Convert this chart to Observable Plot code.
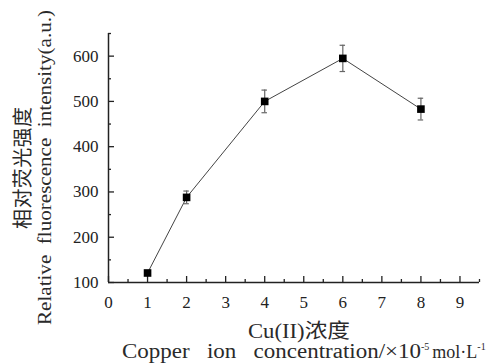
<!DOCTYPE html>
<html><head><meta charset="utf-8">
<script src="https://cdn.jsdelivr.net/npm/d3@7"></script>
<script src="https://cdn.jsdelivr.net/npm/@observablehq/plot@0.6"></script>
<style>
body{margin:0;background:#fff;}
#c{position:relative;width:488px;height:363px;}
svg text{font-family:"Liberation Serif","Times New Roman","DejaVu Serif","Noto Sans CJK SC",serif;}
</style></head><body><div id="c"></div>
<script>
const conc = [1, 2, 4, 6, 8];
const intensity = [121, 288, 500, 595, 483];
const errs = [3, 14, 25, 29, 24];
const xTicks = [0,1,2,3,4,5,6,7,8,9];
const xMinor = [0.5,1.5,2.5,3.5,4.5,5.5,6.5,7.5,8.5,9.5];
const yTicks = [100,200,300,400,500,600];
const yMinor = [150,250,350,450,550,650];
const yLabelZh = "相对荧光强度";
const yLabelEn = "Relative  fluorescence  intensity(a.u.)";
const xLabelZh = "Cu(II)浓度";
const xLabelEn = "Copper   ion   concentration/×10";
const xUnitExp = "-5";
const xUnit = "mol·L";
const xUnitExp2 = "-1";

const data = conc.map((x,i)=>({x, y:intensity[i], e:errs[i]}));
const font = '"Liberation Serif","Times New Roman","DejaVu Serif","Noto Sans CJK SC",serif';

const plot = Plot.plot({
  width: 488, height: 363,
  marginLeft: 108, marginRight: 9, marginTop: 33, marginBottom: 81,
  style: {fontFamily: font, fontSize: "17px", color: "#222", background: "#fff"},
  x: {domain: [0, 9.5], label: null},
  y: {domain: [100, 650], label: null},
  marks: [
    Plot.axisX({ticks: xTicks, tickSize: 0, tickPadding: 13, fontSize: 17}),
    Plot.axisX({ticks: xTicks, tickSize: -6, text: null, stroke: "#222", strokeWidth: 1.3}),
    Plot.axisX({ticks: xMinor, tickSize: -3, text: null, stroke: "#222", strokeWidth: 1.3}),
    Plot.axisY({ticks: yTicks, tickSize: 0, tickPadding: 10, fontSize: 17}),
    Plot.axisY({ticks: yTicks, tickSize: -6, text: null, stroke: "#222", strokeWidth: 1.3}),
    Plot.axisY({ticks: yMinor, tickSize: -3, text: null, stroke: "#222", strokeWidth: 1.3}),
    Plot.ruleX([0], {stroke: "#222", strokeWidth: 1.5}),
    Plot.ruleY([100], {stroke: "#222", strokeWidth: 1.5}),
    Plot.line(data, {x: "x", y: "y", stroke: "#444", strokeWidth: 1}),
    Plot.ruleX(data, {x: "x", y1: d => d.y - d.e, y2: d => d.y + d.e, stroke: "#666", strokeWidth: 1.2}),
    Plot.ruleY(data, {y: d => d.y - d.e, x1: d => d.x - 0.07, x2: d => d.x + 0.07, stroke: "#666", strokeWidth: 1.2}),
    Plot.ruleY(data, {y: d => d.y + d.e, x1: d => d.x - 0.07, x2: d => d.x + 0.07, stroke: "#666", strokeWidth: 1.2}),
    Plot.dot(data, {x: "x", y: "y", symbol: "square", r: 4.3, fill: "#000", stroke: "none"})
  ]
});
const svg = d3.select(plot);
const col = "#2a2a2a";
svg.append("text").attr("transform", "translate(30,168) rotate(-90)")
  .attr("text-anchor", "middle").attr("font-size", 20).attr("fill", col)
  .attr("textLength", 122).attr("lengthAdjust", "spacing")
  .text(yLabelZh);
svg.append("text").attr("transform", "translate(51,325) rotate(-90)")
  .attr("text-anchor", "start").attr("font-size", 19).attr("fill", col)
  .style("white-space","pre")
  .attr("textLength", 315).attr("lengthAdjust", "spacingAndGlyphs")
  .text(yLabelEn);
svg.append("text").attr("x", 248).attr("y", 338)
  .attr("text-anchor", "start").attr("font-size", 20).attr("fill", col)
  .attr("textLength", 102).attr("lengthAdjust", "spacingAndGlyphs")
  .text(xLabelZh);
const t = svg.append("text").attr("x", 122).attr("y", 358)
  .attr("text-anchor", "start").attr("font-size", 20).attr("fill", col)
  .style("white-space","pre");
t.append("tspan").attr("textLength", 299).attr("lengthAdjust", "spacingAndGlyphs").text(xLabelEn);
t.append("tspan").attr("dy", -8).attr("font-size", 10).text(xUnitExp);
t.append("tspan").attr("dy", 8).attr("dx", 3).attr("font-size", 18).text(xUnit);
t.append("tspan").attr("dy", -8).attr("font-size", 10).text(xUnitExp2);
document.getElementById("c").appendChild(plot);
</script></body></html>
